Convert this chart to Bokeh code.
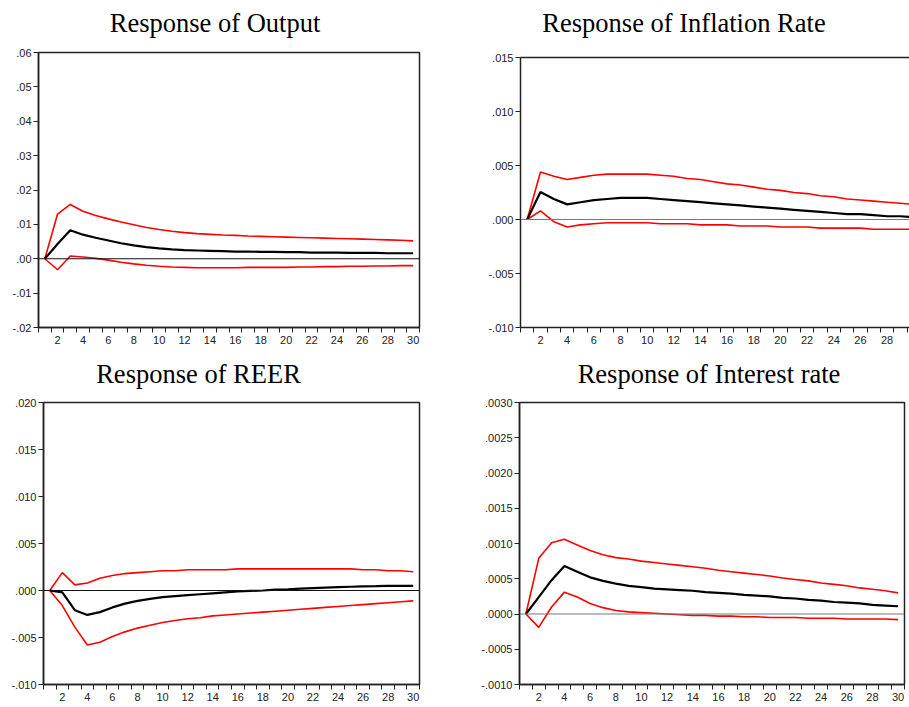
from bokeh.plotting import figure
from bokeh.models import (FixedTicker, CustomJSTickFormatter, Span, LinearAxis, Range1d)
from bokeh.core.properties import value
from bokeh.layouts import row, column
from bokeh.embed import file_html
from bokeh.resources import INLINE

periods = list(range(1, 31))

# Response of Output
out_resp = [0.0, 0.0043, 0.0083, 0.0070, 0.0061, 0.0053, 0.0045, 0.0039, 0.0034, 0.0030,
            0.0027, 0.0025, 0.0024, 0.0023, 0.0022, 0.0021, 0.0021, 0.0020, 0.0020, 0.0019,
            0.0019, 0.0018, 0.0018, 0.0018, 0.0017, 0.0017, 0.0017, 0.0016, 0.0016, 0.0016]
out_upper = [0.0, 0.0130, 0.0158, 0.0138, 0.0126, 0.0116, 0.0107, 0.0099, 0.0091, 0.0085,
             0.0080, 0.0076, 0.0073, 0.0071, 0.0069, 0.0068, 0.0066, 0.0065, 0.0064, 0.0063,
             0.0062, 0.0061, 0.0060, 0.0059, 0.0058, 0.0057, 0.0056, 0.0055, 0.0054, 0.0052]
out_lower = [0.0, -0.0032, 0.0008, 0.0005, 0.0001, -0.0004, -0.0010, -0.0015, -0.0019, -0.0022,
             -0.0024, -0.0025, -0.0026, -0.0026, -0.0026, -0.0026, -0.0025, -0.0025, -0.0025, -0.0025,
             -0.0024, -0.0024, -0.0023, -0.0023, -0.0022, -0.0022, -0.0021, -0.0021, -0.0020, -0.0020]

# Response of Inflation Rate
inf_resp = [0.0, 0.00255, 0.0019, 0.0014, 0.0016, 0.0018, 0.0019, 0.0020, 0.0020, 0.0020,
            0.0019, 0.0018, 0.0017, 0.0016, 0.0015, 0.0014, 0.0013, 0.0012, 0.0011, 0.0010,
            0.0009, 0.0008, 0.0007, 0.0006, 0.0005, 0.0005, 0.0004, 0.0003, 0.0003, 0.0002]
inf_upper = [0.0, 0.0044, 0.0040, 0.0037, 0.0039, 0.0041, 0.0042, 0.0042, 0.0042, 0.0042,
             0.0041, 0.0040, 0.0038, 0.0037, 0.0035, 0.0033, 0.0032, 0.0030, 0.0028, 0.0027,
             0.0025, 0.0024, 0.0022, 0.0021, 0.0019, 0.0018, 0.0017, 0.0016, 0.0015, 0.0014]
inf_lower = [0.0, 0.0008, -0.0002, -0.0007, -0.0005, -0.0004, -0.0003, -0.0003, -0.0003, -0.0003,
             -0.0004, -0.0004, -0.0004, -0.0005, -0.0005, -0.0005, -0.0006, -0.0006, -0.0006, -0.0007,
             -0.0007, -0.0007, -0.0008, -0.0008, -0.0008, -0.0008, -0.0009, -0.0009, -0.0009, -0.0009]

# Response of REER
reer_resp = [0.0, -0.0002, -0.0021, -0.0026, -0.0023, -0.0018, -0.0014, -0.0011, -0.0009, -0.0007,
             -0.0006, -0.0005, -0.0004, -0.0003, -0.0002, -0.0001, -0.00005, 0.0, 0.0001, 0.00012,
             0.0002, 0.00025, 0.0003, 0.00035, 0.0004, 0.00043, 0.00046, 0.0005, 0.0005, 0.0005]
reer_upper = [0.0, 0.0019, 0.0006, 0.0008, 0.0013, 0.0016, 0.0018, 0.0019, 0.0020, 0.0021,
              0.0021, 0.0022, 0.0022, 0.0022, 0.0022, 0.0023, 0.0023, 0.0023, 0.0023, 0.0023,
              0.0023, 0.0023, 0.0023, 0.0023, 0.0023, 0.0022, 0.0022, 0.0021, 0.0021, 0.0020]
reer_lower = [0.0, -0.0016, -0.0039, -0.0058, -0.0055, -0.0049, -0.0044, -0.0040, -0.0037, -0.0034,
              -0.0032, -0.0030, -0.0029, -0.0027, -0.0026, -0.0025, -0.0024, -0.0023, -0.0022, -0.0021,
              -0.0020, -0.0019, -0.0018, -0.0017, -0.0016, -0.0015, -0.0014, -0.0013, -0.0012, -0.0011]

# Response of Interest rate
int_resp = [0.0, 0.00024, 0.00048, 0.00068, 0.00060, 0.00052, 0.00047, 0.00043, 0.00040, 0.00038,
            0.00036, 0.00035, 0.00034, 0.00033, 0.00031, 0.00030, 0.00029, 0.00027, 0.00026, 0.00025,
            0.00023, 0.00022, 0.00020, 0.00019, 0.00017, 0.00016, 0.00015, 0.00013, 0.00012, 0.00011]
int_upper = [0.0, 0.00079, 0.00101, 0.00106, 0.00098, 0.00090, 0.00084, 0.00080, 0.00078, 0.00075,
             0.00073, 0.00071, 0.00069, 0.00067, 0.00065, 0.00062, 0.00060, 0.00058, 0.00056, 0.00054,
             0.00051, 0.00049, 0.00047, 0.00044, 0.00042, 0.00040, 0.00037, 0.00035, 0.00033, 0.00030]
int_lower = [0.0, -0.00019, 0.00010, 0.00031, 0.00024, 0.00015, 0.00009, 0.00005, 0.00003, 0.00002,
             0.00001, 0.0, -0.00001, -0.00002, -0.00002, -0.00003, -0.00003, -0.00004, -0.00004, -0.00005,
             -0.00005, -0.00005, -0.00006, -0.00006, -0.00006, -0.00007, -0.00007, -0.00007, -0.00007, -0.00008]

titles_top = ["Response of Output", "Response of Inflation Rate"]
titles_bottom = ["Response of REER", "Response of Interest rate"]
y_ticks_out = [-0.02, -0.01, 0.0, 0.01, 0.02, 0.03, 0.04, 0.05, 0.06]
y_ticks_inf = [-0.010, -0.005, 0.0, 0.005, 0.010, 0.015]
y_ticks_reer = [-0.010, -0.005, 0.0, 0.005, 0.010, 0.015, 0.020]
y_ticks_int = [-0.0010, -0.0005, 0.0, 0.0005, 0.0010, 0.0015, 0.0020, 0.0025, 0.0030]
x_labels = list(range(2, 31, 2))

TICK_FONT = "Liberation Sans"
TITLE_FONT = "Liberation Serif"
AX = "#222222"
PAGE_W = 909
TITLE_H = 40


def title_strip(texts, centers, baseline):
    t = figure(title=None, frame_width=PAGE_W, frame_height=TITLE_H, min_border=0,
               x_range=Range1d(0, PAGE_W), y_range=Range1d(0, TITLE_H),
               x_axis_location=None, y_axis_location=None,
               output_backend="svg", toolbar_location=None, tools="")
    t.grid.visible = False
    t.outline_line_color = None
    t.text(x=centers, y=[TITLE_H - baseline] * len(texts), text=texts,
           text_align="center", text_baseline="alphabetic",
           text_font=value(TITLE_FONT), text_font_size="26.5px", text_color="black")
    return t


def make_panel(resp, upper, lower, yticks, digits, x_end, zero_color,
               fw, fh, bl, br, bt, bb, right_border=True):
    p = figure(title=None, frame_width=fw, frame_height=fh, min_border_left=bl,
               min_border_right=br, min_border_top=bt, min_border_bottom=bb,
               x_range=Range1d(0.5, x_end), y_range=Range1d(yticks[0], yticks[-1]),
               output_backend="svg", toolbar_location=None, tools="")
    p.grid.visible = False
    p.background_fill_color = "white"
    p.border_fill_color = "white"

    xa = p.below[0]
    xa.ticker = FixedTicker(ticks=x_labels, minor_ticks=[k + 0.5 for k in range(0, 31)])
    xa.formatter = CustomJSTickFormatter(code="return tick.toFixed(0);")
    xa.major_tick_line_color = None
    xa.major_tick_out = 5
    xa.major_tick_in = 0
    xa.minor_tick_line_color = AX
    xa.minor_tick_out = 5
    xa.minor_tick_in = 0
    xa.minor_tick_line_width = 1
    xa.major_label_standoff = 3
    xa.major_label_text_font = TICK_FONT
    xa.major_label_text_font_size = "11px"
    xa.major_label_text_color = AX
    xa.axis_line_color = AX
    xa.axis_line_width = 1.5

    ya = p.left[0]
    ya.ticker = FixedTicker(ticks=yticks, minor_ticks=[])
    ya.formatter = CustomJSTickFormatter(
        args=dict(d=digits),
        code="var s = tick.toFixed(d); return s.replace('0.', '.');")
    ya.major_tick_line_color = AX
    ya.major_tick_out = 5
    ya.major_tick_in = 0
    ya.minor_tick_line_color = None
    ya.major_label_standoff = 2
    ya.major_label_text_font = TICK_FONT
    ya.major_label_text_font_size = "11px"
    ya.major_label_text_color = AX
    ya.axis_line_color = AX
    ya.axis_line_width = 1.5

    if right_border:
        p.outline_line_color = AX
        p.outline_line_width = 1.5
        p.outline_line_alpha = 1.0
    else:
        p.outline_line_color = None
        top = LinearAxis(ticker=FixedTicker(ticks=[]), major_label_text_font_size="0px",
                         major_tick_line_color=None, minor_tick_line_color=None,
                         axis_line_color=AX, axis_line_width=1.5)
        p.add_layout(top, "above")

    p.add_layout(Span(location=0, dimension="width", line_color=zero_color, line_width=1))
    p.line(periods, upper, line_color="#FF0000", line_width=1.6)
    p.line(periods, lower, line_color="#FF0000", line_width=1.6)
    p.line(periods, resp, line_color="black", line_width=2.2)
    return p


t1 = title_strip(titles_top, [214.5, 683.5], 22.5)
p1 = make_panel(out_resp, out_upper, out_lower, y_ticks_out, 2, 30.5, "#111111",
                fw=381, fh=275, bl=38, br=51, bt=12, bb=25)
p2 = make_panel(inf_resp, inf_upper, inf_lower, y_ticks_inf, 3, 29.68, "#777777",
                fw=389, fh=270, bl=50, br=0, bt=17, bb=25, right_border=False)
t2 = title_strip(titles_bottom, [198, 708.5], 21.5)
p3 = make_panel(reer_resp, reer_upper, reer_lower, y_ticks_reer, 3, 30.5, "#111111",
                fw=376, fh=282, bl=43, br=51, bt=10, bb=23)
p4 = make_panel(int_resp, int_upper, int_lower, y_ticks_int, 4, 30.5, "#777777",
                fw=385, fh=282, bl=49, br=5, bt=10, bb=23)

layout = column(t1,
                row(column(p1, spacing=0), column(p2, spacing=0), spacing=0),
                t2,
                row(column(p3, spacing=0), column(p4, spacing=0), spacing=0),
                spacing=0)

with open("out.html", "w") as f:
    f.write(file_html(layout, INLINE))
